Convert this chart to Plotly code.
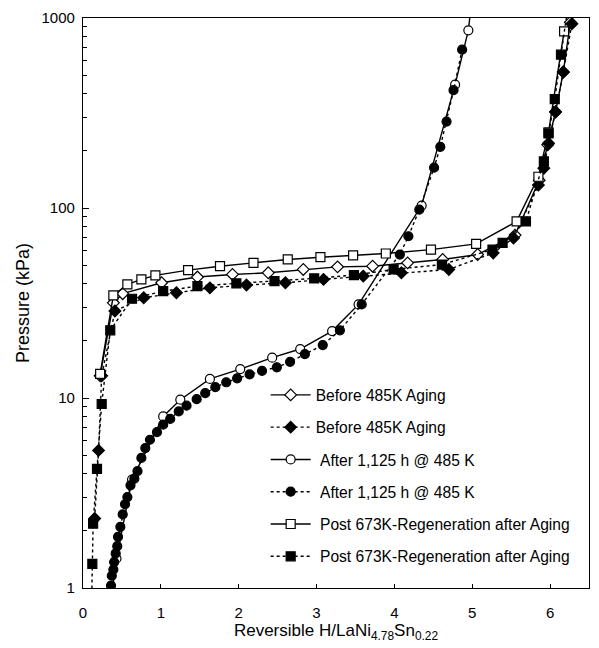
import plotly.graph_objects as go

# Hydrogen absorption isotherms, LaNi4.78Sn0.22
# Before aging (open diamonds, solid line)
before_open_x = [0.22, 0.39, 0.51, 1.01, 1.47, 1.92, 2.38, 2.83, 3.27, 3.72, 4.17, 4.62, 5.07,
                 5.55, 5.86, 5.97, 6.07, 6.17, 6.26]
before_open_p = [13.1, 31.7, 35.4, 40.4, 43.3, 44.7, 45.6, 47.5, 49.0, 49.4, 51.4, 53.6, 56.9,
                 72, 140, 215, 320, 520, 950]

# Before aging (filled diamonds, dotted line)
before_fill_x = [0.15, 0.20, 0.24, 0.41, 0.78, 1.20, 1.63, 2.10, 2.60, 3.09, 3.60, 4.09, 4.70,
                 5.27, 5.53, 5.85, 5.92, 5.98, 6.07, 6.17, 6.28]
before_fill_p = [2.32, 5.3, 13.1, 28.7, 33.7, 35.8, 38.0, 39.3, 40.4, 42.1, 43.8, 45.6, 47.5,
                 58, 69.5, 132, 162, 219, 321, 520, 933]

# After 1,125 h at 485 K (open circles, solid line)
after_open_x = [0.35, 0.43, 0.63, 1.03, 1.25, 1.63, 2.02, 2.43, 2.79, 3.20, 3.54, 4.35, 4.78,
                4.95, 4.99]
after_open_p = [0.8, 1.43, 3.72, 8.0, 9.8, 12.6, 14.2, 16.3, 18.1, 22.5, 31.1, 103, 446,
                861, 1200]

# After 1,125 h at 485 K (filled circles, dotted line)
after_fill_x = [0.36, 0.37, 0.39, 0.40, 0.42, 0.44, 0.45, 0.48, 0.51, 0.54, 0.57, 0.61, 0.66,
                0.70, 0.75, 0.80, 0.86, 0.95, 1.03, 1.12, 1.23, 1.33, 1.46, 1.57, 1.70, 1.84,
                1.98, 2.14, 2.30, 2.49, 2.66, 2.85, 3.08, 3.30, 3.58, 4.07, 4.18, 4.32, 4.51,
                4.59, 4.67, 4.76, 4.87]
after_fill_p = [1.03, 1.16, 1.25, 1.37, 1.52, 1.66, 1.86, 2.10, 2.44, 2.76, 3.01, 3.47, 3.76,
                4.12, 4.84, 5.45, 6.03, 6.61, 7.24, 7.76, 8.50, 9.11, 9.86, 10.6, 11.4, 12.1,
                12.7, 13.3, 13.9, 14.5, 15.5, 17.0, 19.0, 22.7, 31.1, 56.9, 71.0, 98, 163,
                210, 285, 417, 681]

# Post 673K regeneration (open squares, solid line)
regen_open_x = [0.22, 0.39, 0.57, 0.75, 0.93, 1.35, 1.76, 2.19, 2.63, 3.05, 3.47, 3.89, 4.47,
                5.05, 5.57, 5.85, 5.98, 6.18]
regen_open_p = [13.4, 34.7, 39.6, 42.1, 44.2, 47.1, 49.4, 51.4, 53.6, 55.1, 56.3, 57.6, 60.4,
                64.7, 85, 146, 250, 851]

# Post 673K regeneration (filled squares, dotted line)
regen_fill_x = [0.11, 0.12, 0.13, 0.18, 0.24, 0.35, 0.63, 1.03, 1.47, 1.97, 2.46, 2.97, 3.48,
                3.99, 4.61, 5.26, 5.39, 5.69, 5.92, 5.98, 6.06, 6.14, 6.23]
regen_fill_p = [0.8, 1.34, 2.18, 4.24, 9.3, 22.7, 33.3, 36.5, 38.8, 40.1, 41.2, 42.6, 44.3,
                47.5, 50.4, 60.4, 65.5, 85, 176, 247, 374, 641, 1150]

x_ticks = [0, 1, 2, 3, 4, 5, 6]
y_ticks = [1, 10, 100, 1000]
y_minor = [m * d for d in (1, 10, 100) for m in range(2, 10)]

FONT = "Liberation Sans, Arial, sans-serif"

series = [
    ("Before 485K Aging", before_open_x, before_open_p, "diamond", "white", "solid", 9),
    ("Before 485K Aging", before_fill_x, before_fill_p, "diamond", "black", "dot", 9),
    ("\u00a0After 1,125 h @ 485 K", after_open_x, after_open_p, "circle", "white", "solid", 9),
    ("\u00a0After 1,125 h @ 485 K", after_fill_x, after_fill_p, "circle", "black", "dot", 9),
    ("\u00a0Post 673K-Regeneration after Aging", regen_open_x, regen_open_p, "square", "white", "solid", 9),
    ("\u00a0Post 673K-Regeneration after Aging", regen_fill_x, regen_fill_p, "square", "black", "dot", 9),
]

fig = go.Figure()
for i, (name, xs, ps, sym, fill, dash, size) in enumerate(series):
    fig.add_trace(go.Scatter(
        x=xs, y=ps, name=name, mode="lines+markers",
        legendgroup=f"g{i}",
        line=dict(color="black", width=1.4, dash=dash),
        marker=dict(symbol=sym, size=size, color=fill,
                    line=dict(color="black", width=1.2)),
    ))

fig.update_layout(
    width=599, height=648,
    margin=dict(l=83, r=9, t=16, b=60),
    paper_bgcolor="white", plot_bgcolor="white",
    font=dict(family=FONT, color="black", size=15),
    showlegend=True,
    legend=dict(
        x=0.361, y=0.368, xanchor="left", yanchor="top",
        bgcolor="rgba(0,0,0,0)", borderwidth=0,
        font=dict(family=FONT, size=15.6, color="black"),
        tracegroupgap=9, itemwidth=40,
    ),
)

fig.update_xaxes(
    range=[0, 6.5], tickvals=x_ticks, ticks="inside", ticklen=4,
    tickcolor="black", showline=True, linecolor="black", linewidth=1.2,
    mirror=True, showgrid=False, zeroline=False,
    tickfont=dict(size=15), ticklabelstandoff=11,
    title=dict(text="Reversible H/LaNi<sub>4.78</sub>Sn<sub>0.22</sub>",
               font=dict(size=17), standoff=4),
)

fig.update_yaxes(
    type="log", range=[0, 3], tickvals=y_ticks, ticktext=[str(v) for v in y_ticks],
    ticks="inside", ticklen=6, tickcolor="black",
    minor=dict(tickvals=y_minor, ticks="inside", ticklen=4, tickcolor="black", showgrid=False),
    showline=True, linecolor="black", linewidth=1.2,
    mirror=True, showgrid=False, zeroline=False,
    tickfont=dict(size=15), ticklabelstandoff=4,
    title=dict(text="Pressure (kPa)", font=dict(size=18), standoff=7),
)

fig.write_html("out.html")
